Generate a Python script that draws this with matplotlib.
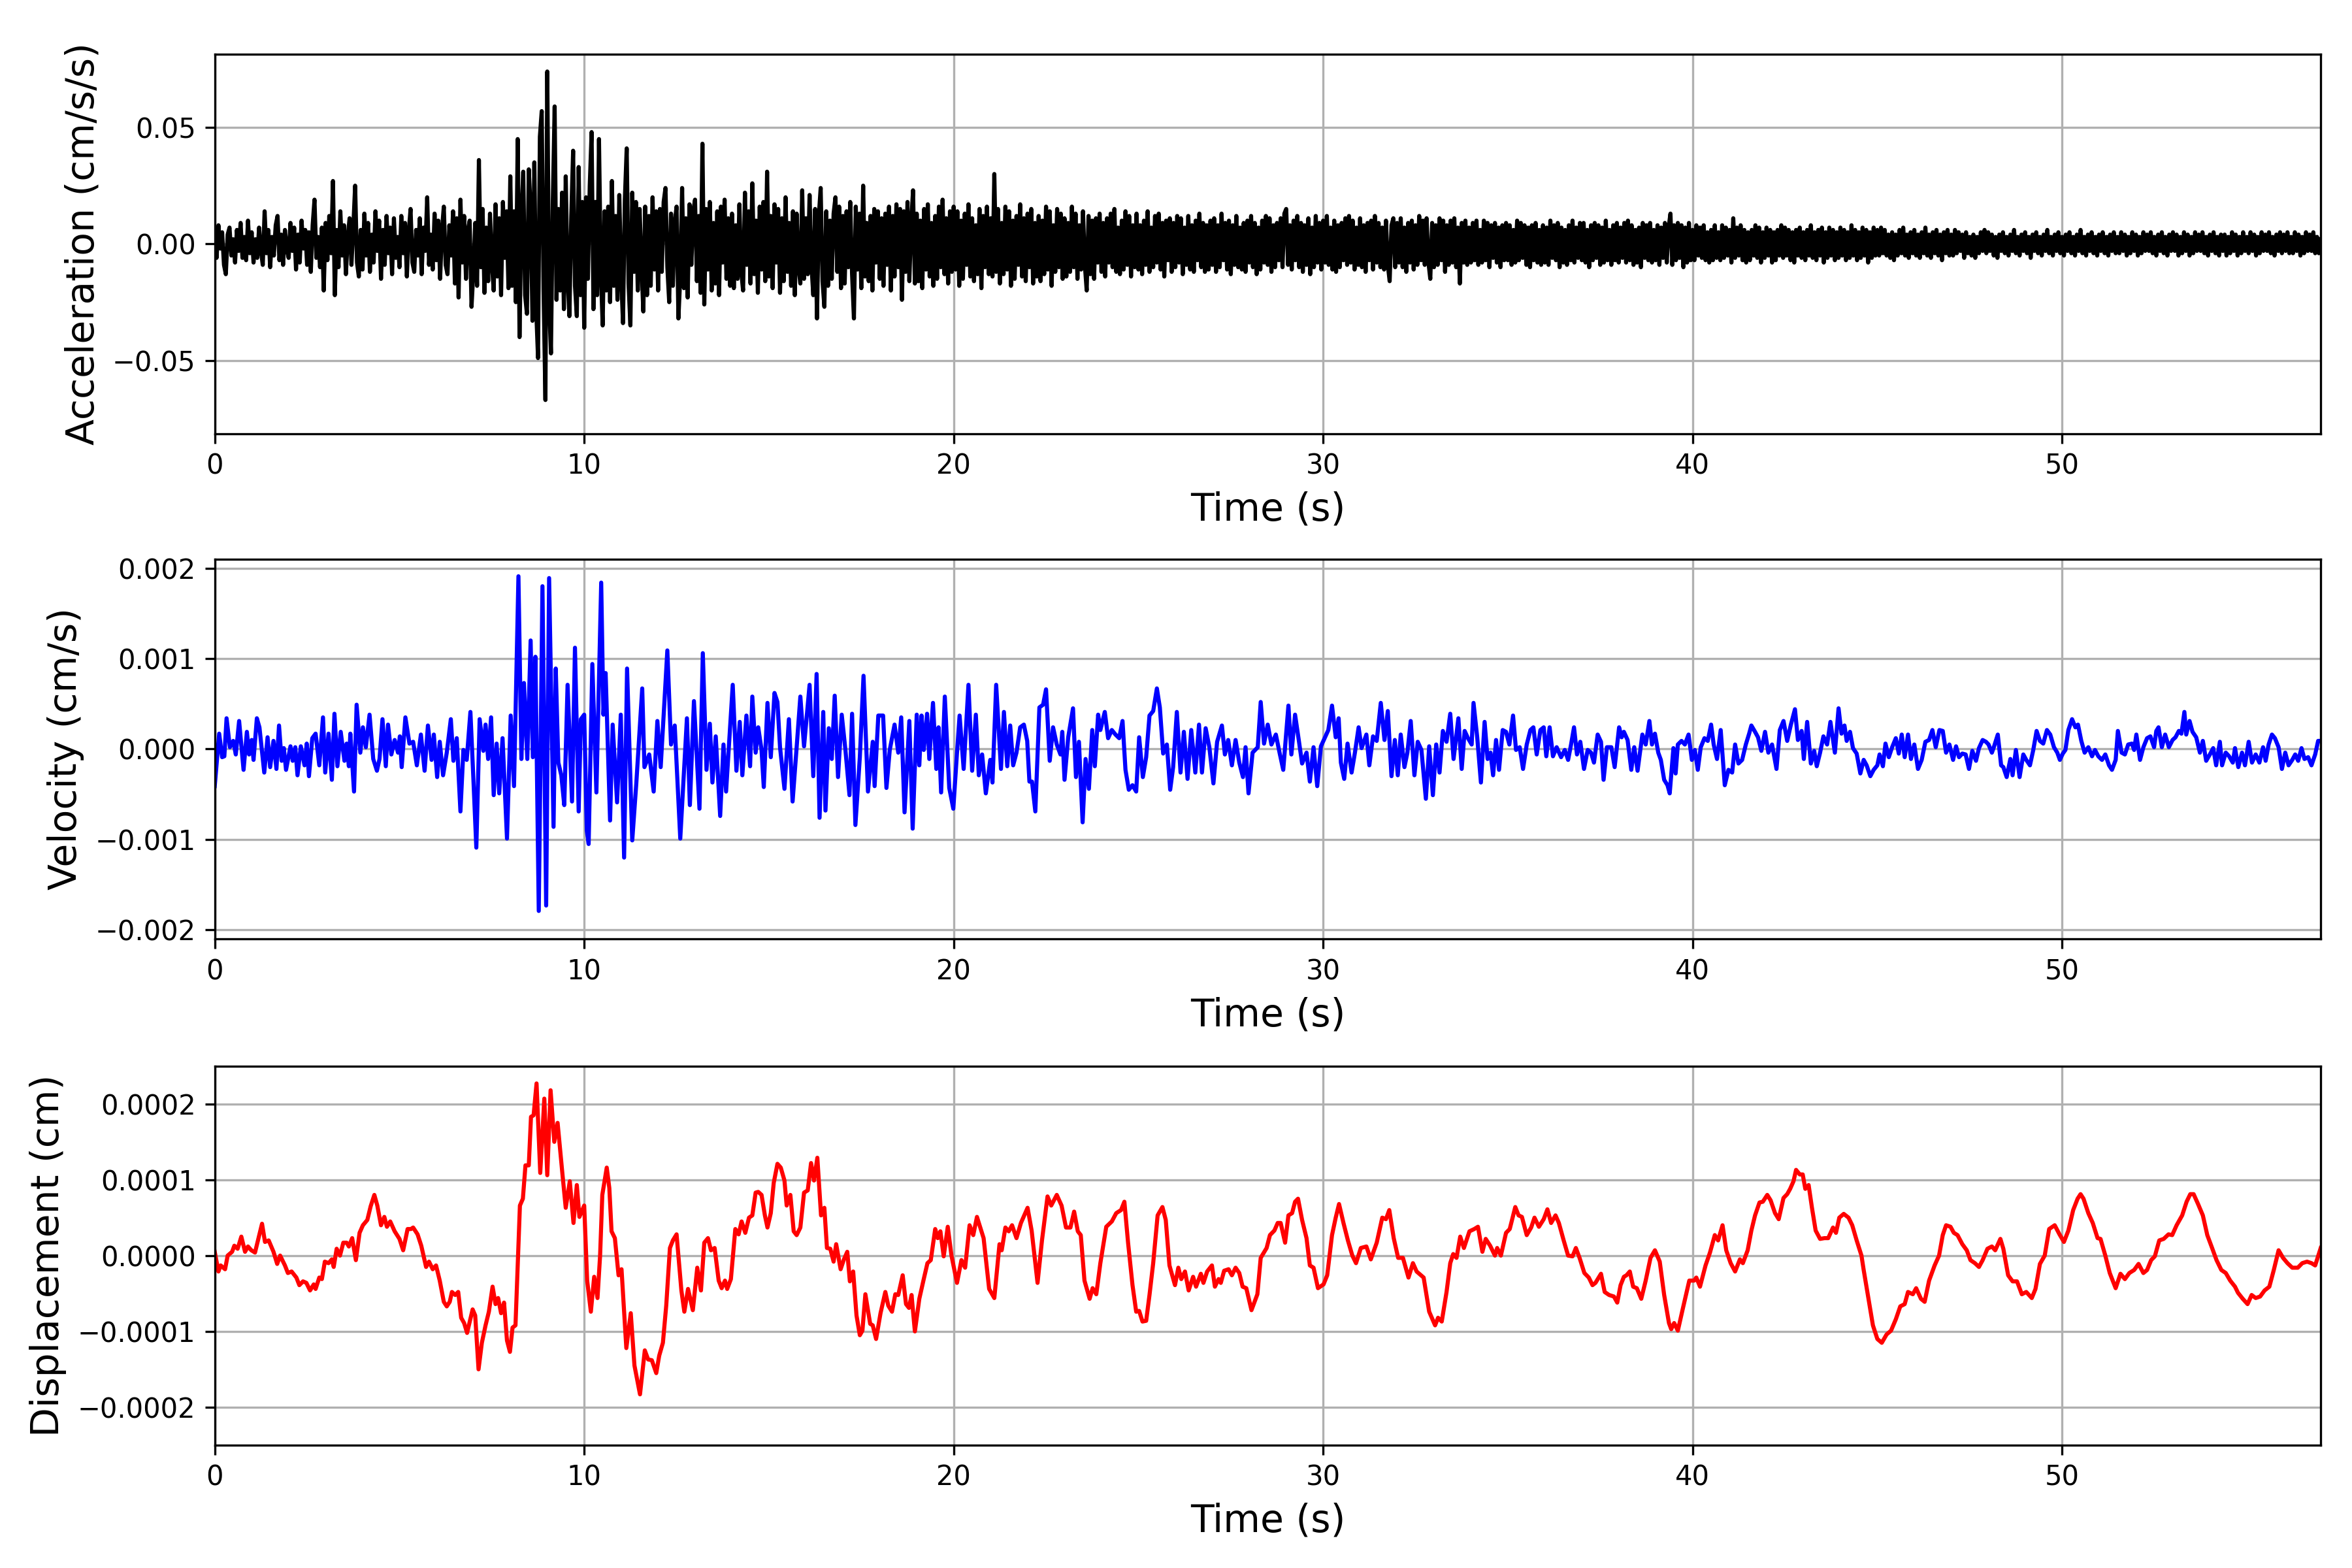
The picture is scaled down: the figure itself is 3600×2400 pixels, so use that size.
import numpy as np
import matplotlib
matplotlib.use("Agg")
import matplotlib.pyplot as plt

# ---------------- data ----------------
# Acceleration, sampled every 0.05 s (one row = one second), in units of 0.001 cm/s/s
ACC_DT = 0.05
ACC_UNIT = 1e-3
T_END = 57.0
acc_values = [
    3, -6, 8, -2, 5, -9, -13, 4, 7, -5, 2, -8, 6, -3, 9, -6, 3, -7, 10, -4,
    5, -8, 2, -6, 7, -3, -9, 14, -4, 6, -10, 3, -5, 8, 12, -7, 4, -9, 6, -2,
    -6, 9, -3, 7, -11, 4, -8, 10, -2, 6, -9, 5, -12, 8, 19, -6, 3, -10, 7, -20,
    9, -7, 12, -4, 27, -22, 6, -10, 14, -5, 8, -13, 3, 11, -9, 7, 25, -8, -14, 6,
    -11, 13, -5, 9, -12, 4, -8, 14, -3, 10, -15, 6, -9, 12, -4, 7, -13, 11, -6, 3,
    -10, 12, -4, 9, -14, 5, 15, -8, -12, 6, -5, 11, -13, 7, -3, 20, -9, 4, -11, 13,
    -7, 10, -15, 6, 16, -9, -13, 8, -5, 14, -17, 11, -23, 19, -8, 12, -15, 6, 10, -27,
    -12, 9, -18, 36, -10, 15, -21, 7, -16, 13, -8, -20, 17, -14, 11, -22, 18, -6, 14, -19,
    29, -18, 14, -25, 45, -40, 12, 31, -22, -30, 32, 15, -33, 35, -28, -49, 46, 57, -20, -67,
    74, -25, -47, 18, 59, -24, 15, -20, 22, -28, 29, -15, -31, 12, 40, -18, -31, 33, -22, 18,
    -36, 20, -15, 25, 48, -28, 18, -22, 45, -12, -35, 14, -20, 16, -25, 27, -18, 12, -24, 21,
    -14, -34, 19, 41, -17, -35, 22, -12, 18, -20, 15, -9, -29, 16, -22, 12, -18, 20, -11, 14,
    -20, 15, -12, 18, 24, -10, -25, 13, -18, 9, 16, -32, -14, 24, -19, 11, -23, 17, -9, 14,
    19, -16, 12, -21, 43, -26, 15, -11, 18, -20, 9, -17, 14, -22, 16, -8, 19, -15, 11, -18,
    13, -19, 8, -15, 17, -12, -20, 22, -9, 14, -17, 26, -13, 10, -21, 16, -11, 18, -16, 31,
    -14, 12, -19, 17, -8, 15, -21, 11, -16, 20, -12, 9, -18, 14, -22, 13, -10, -17, 23, -15,
    11, -13, 21, -9, -22, 15, -32, 12, 24, -16, -27, 14, -18, 10, -15, 13, 20, -12, 16, -19,
    12, -17, 14, -10, 18, -13, -32, 16, -11, 13, -19, 25, -14, 9, -16, 12, -20, 15, -8, 14,
    -15, 11, -18, 13, -9, 16, -20, 12, -14, 17, -10, 15, -24, 14, -12, 18, -16, 9, 23, -17,
    13, -16, 10, -19, 15, -11, 17, -14, 9, -18, 12, -15, 16, -10, 19, -13, 11, -17, 14, -12,
    16, -11, 14, -18, 10, -15, 13, -9, 17, -14, 11, -16, 8, -13, 15, -19, 12, -10, 16, -13,
    11, -14, 30, -12, 15, -17, 9, -13, 16, -11, 14, -18, 10, -15, 12, -9, 17, -14, 11, -16,
    13, -10, 15, -17, 9, -14, 12, -16, 10, -13, 16, -11, 14, -18, 8, -12, 15, -10, 13, -15,
    11, -14, 9, -12, 16, -10, 13, -15, 8, -11, 14, -9, -20, 12, -13, 10, -15, 11, -8, 13,
    -12, 9, -14, 11, -8, 13, -10, 15, -12, 7, -13, 10, -11, 14, -9, 12, -14, 8, -10, 13,
    -11, 8, -13, 10, -9, 14, -12, 7, -10, 12, -8, 13, -11, 9, -14, 10, -7, 11, -12, 9,
    -10, 12, -8, 11, -13, 7, -9, 12, -11, 8, -12, 10, -7, 13, -10, 9, -12, 8, -11, 10,
    -9, 11, -12, 8, -10, 13, -7, 9, -11, 10, -13, 8, -9, 12, -10, 7, -11, 9, -12, 10,
    -8, 12, -10, 9, -13, 7, -11, 10, -8, 12, -9, 11, -12, 8, -10, 9, -7, 11, -10, 13,
    15, -9, 8, -11, 10, -7, 12, -10, 9, -12, 8, -9, 11, -13, 7, -10, 12, -8, 9, -11,
    10, -8, 12, -9, 7, -11, 10, -12, 8, -10, 9, -7, 11, -9, 12, -8, 10, -11, 7, -9,
    11, -10, 8, -12, 9, -7, 10, -11, 12, -8, 9, -10, 7, -11, 10, -9, -16, 8, 11, -10,
    9, -8, 11, -10, 7, -12, 9, -8, 10, -11, 8, -9, 12, -7, 10, -9, 11, -8, -15, 9,
    -10, 8, -9, 11, -7, 10, -12, 8, -9, 10, -8, 11, -10, 7, -17, 9, -8, 10, -9, 7,
    -8, 9, -7, 10, -9, 6, -8, 10, -7, 9, -10, 8, -6, 9, -8, 7, -10, 8, -7, 9,
    -7, 8, -9, 6, -8, 10, -7, 9, -6, 8, -9, 7, -10, 8, -7, 9, -8, 6, -9, 8,
    -8, 7, -9, 10, -6, 8, -7, 9, -10, 7, -8, 6, -9, 8, -7, 10, -8, 7, -6, 9,
    -7, 9, -8, 6, -10, 8, -7, 9, -6, 8, -9, 7, -8, 10, -7, 6, -9, 8, -7, 9,
    -8, 7, -6, 9, -8, 10, -7, 8, -9, 6, -8, 7, -10, 9, -6, 8, -7, 9, -8, 6,
    -7, 8, -9, 7, -6, 9, -8, 7, 13, -9, 8, -7, 9, -6, 8, -10, 7, -8, 9, -7,
    6, -7, 8, -5, 7, -6, 8, -7, 5, -8, 6, -7, 8, -6, 5, -7, 8, -6, 7, -5,
    6, -8, 11, -6, 7, -5, 8, -7, 6, -8, 5, -7, 6, -5, 8, -6, 7, -8, 5, -6,
    7, -5, 6, -8, 5, -7, 6, -5, 8, -6, 7, -5, 6, -7, 5, -8, 6, -5, 7, -6,
    5, -7, 6, -5, 8, -6, 5, -7, 6, -5, 7, -8, 5, -6, 7, -5, 6, -7, 5, -6,
    7, -5, 6, -7, 5, -6, 8, -5, 6, -7, 5, -6, 7, -5, 6, -8, 5, -6, 7, -5,
    6, -5, 7, -4, 6, -5, 4, -6, 5, -7, 4, -5, 6, -4, 7, -5, 4, -6, 5, -4,
    6, -5, 4, -6, 5, -4, 7, -5, 4, -6, 5, -4, 6, -5, 4, -7, 5, -4, 6, -5,
    4, -5, 6, -4, 5, -3, 4, -6, 5, -4, 3, -5, 4, -6, 3, -4, 5, -3, 6, -4,
    5, -3, 4, -5, 3, -6, 4, -3, 5, -4, 3, -5, 4, -3, 6, -4, 3, -5, 4, -3,
    5, -4, 3, -6, 4, -3, 5, -4, 3, -5, 4, -3, 6, -4, 3, -5, 4, -3, 5, -4,
    3, -5, 4, -3, 5, -4, 3, -5, 4, -3, 6, -4, 3, -5, 4, -3, 5, -4, 3, -5,
    4, -3, 5, -4, 3, -5, 4, -3, 5, -4, 3, -4, 5, -3, 4, -5, 3, -4, 5, -3,
    4, -5, 3, -4, 5, -3, 4, -3, 5, -4, 3, -5, 4, -3, 5, -4, 3, -5, 4, -3,
    5, -3, 4, -5, 3, -4, 5, -3, 4, -5, 3, -4, 5, -3, 4, -3, 5, -4, 3, -5,
    4, -3, 5, -4, 3, -5, 4, -3, 4, -5, 3, -4, 5, -3, 4, -5, 3, -4, 5, -3,
    3, -4, 5, -3, 4, -5, 3, -4, 5, -3, 4, -3, 5, -4, 3, -5, 4, -3, 5, -4,
    4, -3, 5, -4, 3, -4, 5, -3, 4, -5, 3, -4, 5, -3, 4, -3, 5, -4, 3, -4,
    2,
]

# Velocity: (time s, value in 1e-5 cm/s)
VEL_UNIT = 1e-5
vel_points = [
    (0.0, -41), (0.12, 17), (0.2, -9), (0.26, -8), (0.32, 34), (0.41, 2), (0.5, 9), (0.57, -6),
    (0.66, 31), (0.78, -23), (0.87, 19), (0.93, -6), (1.0, 10), (1.05, -12), (1.14, 34), (1.21, 24),
    (1.34, -26), (1.43, 13), (1.5, -20), (1.59, 9), (1.67, -22), (1.74, 26), (1.81, -13), (1.87, 1),
    (1.93, -23), (2.05, 3), (2.11, -13), (2.18, 2), (2.24, -29), (2.33, 3), (2.43, -18), (2.49, 6),
    (2.55, -30), (2.64, 12), (2.73, 17), (2.83, -18), (2.93, 35), (2.99, -26), (3.08, 17), (3.17, -34),
    (3.24, 39), (3.32, -19), (3.41, 19), (3.51, -13), (3.57, 6), (3.63, -19), (3.67, 17), (3.77, -47),
    (3.84, 49), (3.94, -4), (4.01, 24), (4.09, 2), (4.19, 38), (4.29, -11), (4.39, -24), (4.46, -11),
    (4.54, 33), (4.63, -19), (4.69, 27), (4.78, -6), (4.87, 10), (4.96, -4), (5.01, 14), (5.06, -20),
    (5.16, 35), (5.27, 6), (5.37, 8), (5.47, -18), (5.58, 16), (5.68, -24), (5.77, 26), (5.87, -12),
    (5.93, 16), (6.02, -31), (6.09, 8), (6.18, -29), (6.28, -4), (6.39, 33), (6.46, -13), (6.55, 12),
    (6.65, -69), (6.73, -1), (6.82, -12), (6.92, 41), (6.99, -23), (7.08, -109), (7.17, 33), (7.27, -2),
    (7.33, 27), (7.4, -11), (7.48, 35), (7.55, -51), (7.63, 6), (7.7, -49), (7.79, 12), (7.91, -99),
    (8.01, 37), (8.1, -41), (8.22, 191), (8.3, -11), (8.37, 73), (8.46, -11), (8.55, 120), (8.61, -9),
    (8.68, 102), (8.77, -179), (8.87, 180), (8.97, -173), (9.05, 189), (9.17, -86), (9.23, 89), (9.3, -15),
    (9.38, -29), (9.46, -62), (9.55, 71), (9.67, -58), (9.75, 112), (9.85, -69), (9.91, 33), (10.0, 38),
    (10.07, -90), (10.12, -105), (10.22, 94), (10.33, -48), (10.46, 184), (10.52, 38), (10.58, 84), (10.7, -79),
    (10.77, 27), (10.89, -59), (10.99, 38), (11.08, -120), (11.16, 89), (11.3, -101), (11.41, -38), (11.57, 67),
    (11.63, -20), (11.76, -6), (11.88, -47), (11.98, 31), (12.07, -20), (12.25, 109), (12.35, 5), (12.45, 26),
    (12.6, -99), (12.78, 34), (12.86, -62), (12.97, 53), (13.12, -66), (13.21, 106), (13.31, -23), (13.4, 28),
    (13.47, -37), (13.56, 14), (13.68, -74), (13.77, 5), (13.84, -47), (14.02, 71), (14.12, -24), (14.21, 30),
    (14.28, -29), (14.39, 37), (14.49, -19), (14.55, 58), (14.64, -4), (14.71, 24), (14.8, -1), (14.86, -42),
    (14.96, 51), (15.05, -9), (15.15, 62), (15.23, 52), (15.3, 2), (15.42, -44), (15.54, 33), (15.64, -58),
    (15.75, 2), (15.85, 58), (15.95, 3), (16.1, 71), (16.2, -30), (16.29, 83), (16.37, -76), (16.47, 41),
    (16.53, -68), (16.62, 23), (16.7, -11), (16.78, 59), (16.87, -31), (16.97, 38), (17.07, -1), (17.18, -51),
    (17.25, 39), (17.34, -84), (17.46, -9), (17.56, 81), (17.68, -47), (17.81, 8), (17.86, -41), (17.96, 37),
    (18.09, 37), (18.18, -43), (18.27, -1), (18.4, 27), (18.5, -4), (18.58, 35), (18.67, -70), (18.8, 31),
    (18.89, -88), (19.0, 38), (19.07, -18), (19.13, 37), (19.19, -1), (19.28, 39), (19.34, -11), (19.44, 51),
    (19.53, -22), (19.59, 24), (19.66, -48), (19.76, 58), (19.88, -43), (19.99, -66), (20.09, -4), (20.16, 37),
    (20.27, -22), (20.4, 71), (20.5, -24), (20.6, 38), (20.68, -29), (20.77, -6), (20.87, -49), (20.99, -12),
    (21.05, -37), (21.15, 71), (21.28, -22), (21.36, 41), (21.45, -19), (21.53, 26), (21.61, -18), (21.7, -4),
    (21.8, 24), (21.9, 27), (21.99, 9), (22.05, -36), (22.12, -36), (22.21, -69), (22.32, 46), (22.42, 49),
    (22.5, 66), (22.6, -13), (22.69, 24), (22.79, 5), (22.89, -6), (22.94, 19), (23.0, -34), (23.1, 13),
    (23.23, 45), (23.31, -31), (23.39, 8), (23.49, -81), (23.57, -11), (23.66, -44), (23.75, 21), (23.82, -19),
    (23.91, 38), (23.97, 21), (24.09, 41), (24.18, 12), (24.28, 21), (24.38, 16), (24.48, 12), (24.57, 31),
    (24.65, -23), (24.74, -45), (24.84, -40), (24.94, -47), (25.02, 13), (25.12, -31), (25.21, -9), (25.3, 37),
    (25.4, 42), (25.5, 67), (25.58, 46), (25.67, -5), (25.77, 5), (25.86, -45), (25.94, -20), (26.04, 41),
    (26.14, -26), (26.23, 19), (26.33, -33), (26.43, 21), (26.54, -26), (26.64, 27), (26.72, -26), (26.82, 23),
    (26.92, 2), (27.03, -38), (27.13, 8), (27.26, 26), (27.34, -6), (27.43, 10), (27.53, -18), (27.63, 10),
    (27.73, -15), (27.83, -31), (27.9, 2), (27.98, -49), (28.09, -4), (28.23, 2), (28.31, 52), (28.4, 6),
    (28.5, 27), (28.6, 5), (28.72, 16), (28.82, -4), (28.92, -23), (29.06, 48), (29.14, -6), (29.24, 38),
    (29.34, 10), (29.43, -16), (29.55, -4), (29.64, -36), (29.74, 2), (29.84, -41), (29.94, 3), (30.05, 13),
    (30.14, 21), (30.24, 48), (30.34, 13), (30.42, 34), (30.48, -15), (30.57, -33), (30.66, 6), (30.77, -26),
    (30.86, -4), (30.96, 24), (31.04, 1), (31.17, 16), (31.25, -18), (31.35, 14), (31.45, 9), (31.56, 51),
    (31.66, 10), (31.75, 42), (31.85, -30), (31.94, 10), (32.02, -29), (32.1, 16), (32.2, -20), (32.28, -4),
    (32.37, 31), (32.47, -29), (32.56, 8), (32.66, -1), (32.78, -55), (32.87, 3), (32.97, -51), (33.06, 5),
    (33.15, -26), (33.24, 20), (33.34, 8), (33.44, 39), (33.53, -11), (33.66, 34), (33.75, -22), (33.83, 20),
    (33.92, 12), (34.02, 5), (34.07, 51), (34.17, 13), (34.27, -37), (34.37, 30), (34.45, -11), (34.53, -4),
    (34.6, -29), (34.68, 10), (34.76, -23), (34.86, 21), (34.95, 19), (35.04, 5), (35.14, 37), (35.22, -1),
    (35.32, 2), (35.41, -22), (35.51, 5), (35.61, 21), (35.69, 24), (35.78, -6), (35.88, 21), (35.97, 24),
    (36.04, -8), (36.13, 24), (36.22, -8), (36.32, 2), (36.44, -9), (36.54, -1), (36.63, -12), (36.71, 5),
    (36.79, 24), (36.87, -6), (36.96, 8), (37.06, -22), (37.16, -1), (37.25, -4), (37.33, -15), (37.43, 16),
    (37.52, 8), (37.59, -34), (37.68, 2), (37.8, 2), (37.89, -20), (38.01, 24), (38.08, 13), (38.14, 19),
    (38.24, 10), (38.34, -23), (38.42, 2), (38.51, -24), (38.64, 16), (38.73, 5), (38.83, 31), (38.9, 5),
    (38.98, 17), (39.07, -4), (39.14, -12), (39.23, -34), (39.32, -40), (39.38, -49), (39.48, 1), (39.54, -27),
    (39.6, 5), (39.7, 9), (39.79, 5), (39.89, 16), (39.98, -12), (40.06, -1), (40.14, -23), (40.22, 2),
    (40.32, 12), (40.41, 9), (40.5, 27), (40.57, 5), (40.66, -11), (40.76, 21), (40.87, -40), (40.97, -23),
    (41.07, -26), (41.15, 5), (41.24, -16), (41.34, -12), (41.44, 5), (41.53, 17), (41.59, 26), (41.69, 19),
    (41.77, 13), (41.86, -2), (41.96, 19), (42.05, -4), (42.15, 5), (42.27, -22), (42.36, 21), (42.46, 31),
    (42.56, 9), (42.66, 27), (42.77, 44), (42.85, 10), (42.95, 20), (43.01, -11), (43.1, 30), (43.2, -16),
    (43.29, -2), (43.36, -19), (43.45, -4), (43.54, 14), (43.64, 5), (43.73, 30), (43.85, -4), (43.95, 45),
    (44.03, 17), (44.11, 26), (44.17, 9), (44.26, 19), (44.34, 1), (44.44, -5), (44.54, -27), (44.63, -12),
    (44.71, -18), (44.81, -30), (44.9, -23), (45.0, -18), (45.06, -6), (45.15, -19), (45.22, 6), (45.31, -9),
    (45.4, 2), (45.5, 12), (45.58, -5), (45.66, 16), (45.74, -9), (45.83, 16), (45.91, -11), (46.0, 5),
    (46.1, -22), (46.2, -12), (46.3, 8), (46.4, 10), (46.49, 21), (46.58, 2), (46.68, 21), (46.77, 20),
    (46.86, -4), (46.95, 5), (47.05, -12), (47.13, 3), (47.21, -9), (47.3, -5), (47.39, -6), (47.48, -22),
    (47.57, -2), (47.67, -13), (47.75, 1), (47.85, 10), (47.94, 8), (48.01, 5), (48.1, -4), (48.16, 3),
    (48.26, 16), (48.35, -18), (48.41, -20), (48.5, -31), (48.6, -11), (48.66, -29), (48.75, -1), (48.85, -31),
    (48.95, -6), (49.03, -12), (49.13, -18), (49.22, -1), (49.31, 20), (49.4, 9), (49.49, 6), (49.59, 21),
    (49.68, 16), (49.78, 2), (49.87, -4), (49.94, -12), (50.02, -5), (50.09, -1), (50.17, 21), (50.27, 33),
    (50.36, 24), (50.43, 27), (50.52, 9), (50.61, -4), (50.71, 2), (50.81, -8), (50.89, -1), (50.98, -8),
    (51.08, -12), (51.17, -6), (51.27, -18), (51.35, -23), (51.45, -12), (51.51, 20), (51.61, -4), (51.7, -6),
    (51.79, 5), (51.89, 6), (51.95, -1), (52.01, 16), (52.11, -12), (52.2, 2), (52.3, 12), (52.39, 14),
    (52.49, 2), (52.55, 20), (52.61, 24), (52.7, 2), (52.79, 16), (52.89, 2), (52.99, 10), (53.07, 13),
    (53.16, 20), (53.23, 17), (53.31, 41), (53.36, 16), (53.45, 31), (53.53, 19), (53.63, 13), (53.73, -4),
    (53.81, 9), (53.9, -13), (54.0, -6), (54.09, 1), (54.17, -18), (54.27, 8), (54.33, -18), (54.43, -4),
    (54.52, -8), (54.62, -15), (54.68, 1), (54.77, -20), (54.87, -4), (54.95, -18), (55.05, 8), (55.14, -15),
    (55.24, -6), (55.34, -15), (55.44, 2), (55.51, -13), (55.59, 5), (55.68, 16), (55.76, 12), (55.86, 2),
    (55.95, -22), (56.04, -4), (56.13, -18), (56.23, -12), (56.31, -6), (56.39, -13), (56.48, 1), (56.56, -11),
    (56.66, -9), (56.75, -18), (56.85, -6), (56.93, 9), (57.0, 9),
]

# Displacement: (time s, value in 1e-6 cm)
DISP_UNIT = 1e-6
disp_points = [
    (0.0, 5), (0.1, -21), (0.16, -13), (0.28, -18), (0.35, 0), (0.47, 5), (0.53, 13), (0.62, 9),
    (0.72, 25), (0.82, 5), (0.9, 12), (0.99, 7), (1.09, 4), (1.28, 42), (1.36, 18), (1.46, 20),
    (1.59, 5), (1.69, -11), (1.77, 0), (1.9, -13), (1.98, -23), (2.08, -21), (2.21, -29), (2.29, -39),
    (2.39, -34), (2.48, -36), (2.58, -46), (2.68, -38), (2.73, -44), (2.83, -29), (2.9, -31), (2.98, -8),
    (3.08, -10), (3.17, -5), (3.22, -15), (3.3, 9), (3.39, 0), (3.48, 17), (3.57, 17), (3.63, 12),
    (3.72, 23), (3.82, -6), (3.92, 30), (4.01, 40), (4.13, 47), (4.22, 65), (4.32, 80), (4.4, 66),
    (4.5, 40), (4.59, 51), (4.66, 38), (4.75, 45), (4.87, 32), (5.0, 22), (5.1, 7), (5.22, 35),
    (5.31, 35), (5.37, 37), (5.49, 28), (5.59, 13), (5.72, -15), (5.8, -8), (5.9, -18), (5.99, -13),
    (6.09, -33), (6.2, -61), (6.28, -67), (6.36, -61), (6.42, -48), (6.51, -52), (6.59, -48), (6.67, -82),
    (6.75, -89), (6.83, -102), (6.98, -71), (7.05, -79), (7.14, -150), (7.23, -115), (7.33, -92), (7.42, -74),
    (7.52, -41), (7.6, -64), (7.67, -56), (7.75, -76), (7.83, -62), (7.91, -112), (7.99, -127), (8.06, -95),
    (8.14, -92), (8.26, 66), (8.34, 75), (8.41, 119), (8.5, 119), (8.56, 183), (8.63, 185), (8.71, 227),
    (8.81, 109), (8.92, 207), (9.0, 106), (9.09, 218), (9.19, 150), (9.28, 175), (9.4, 113), (9.5, 63),
    (9.61, 98), (9.71, 43), (9.8, 93), (9.87, 51), (10.0, 66), (10.08, -33), (10.18, -74), (10.27, -28),
    (10.36, -56), (10.43, 0), (10.49, 80), (10.61, 116), (10.68, 89), (10.74, 32), (10.83, 23), (10.93, -26),
    (11.01, -18), (11.14, -122), (11.26, -76), (11.36, -145), (11.51, -183), (11.64, -125), (11.73, -137), (11.83, -138),
    (11.95, -155), (12.03, -132), (12.13, -115), (12.22, -66), (12.32, 10), (12.4, 20), (12.5, 28), (12.63, -46),
    (12.71, -74), (12.81, -44), (12.94, -72), (13.06, -16), (13.16, -46), (13.25, 17), (13.35, 23), (13.43, 7),
    (13.53, 10), (13.64, -33), (13.72, -43), (13.81, -33), (13.87, -44), (13.97, -31), (14.09, 35), (14.18, 28),
    (14.26, 45), (14.36, 30), (14.46, 50), (14.55, 53), (14.64, 83), (14.71, 84), (14.8, 80), (14.89, 53),
    (14.96, 37), (15.05, 56), (15.13, 96), (15.23, 121), (15.32, 116), (15.42, 99), (15.48, 66), (15.58, 80),
    (15.67, 32), (15.75, 27), (15.85, 37), (15.95, 83), (16.05, 86), (16.14, 122), (16.22, 99), (16.31, 129),
    (16.41, 53), (16.5, 63), (16.57, 10), (16.66, 9), (16.75, -8), (16.82, 15), (16.94, -18), (17.03, -5),
    (17.12, 5), (17.19, -34), (17.28, -21), (17.37, -79), (17.46, -105), (17.53, -99), (17.61, -51), (17.74, -90),
    (17.81, -92), (17.9, -110), (18.02, -76), (18.15, -48), (18.23, -66), (18.33, -74), (18.42, -51), (18.5, -52),
    (18.62, -26), (18.71, -64), (18.79, -69), (18.86, -52), (18.95, -100), (19.07, -57), (19.19, -31), (19.29, -10),
    (19.38, -6), (19.5, 35), (19.57, 23), (19.64, 32), (19.73, -1), (19.84, 38), (19.94, 0), (20.09, -36),
    (20.21, -6), (20.31, -16), (20.43, 40), (20.53, 27), (20.63, 51), (20.81, 23), (20.96, -44), (21.1, -56),
    (21.24, 15), (21.3, 7), (21.4, 37), (21.49, 32), (21.58, 40), (21.7, 23), (21.82, 43), (22.0, 63),
    (22.11, 33), (22.2, -6), (22.27, -36), (22.39, 20), (22.54, 78), (22.64, 66), (22.79, 80), (22.92, 66),
    (23.04, 37), (23.16, 37), (23.26, 58), (23.36, 32), (23.44, 27), (23.54, -33), (23.68, -57), (23.76, -43),
    (23.86, -51), (23.97, -10), (24.13, 38), (24.28, 45), (24.4, 56), (24.53, 60), (24.62, 71), (24.72, 17),
    (24.84, -39), (24.94, -74), (25.02, -73), (25.11, -87), (25.21, -86), (25.3, -52), (25.4, -10), (25.52, 53),
    (25.65, 64), (25.74, 47), (25.84, -13), (25.99, -39), (26.08, -16), (26.16, -31), (26.26, -21), (26.36, -46),
    (26.48, -28), (26.56, -41), (26.69, -24), (26.76, -36), (26.86, -21), (26.99, -13), (27.07, -41), (27.17, -31),
    (27.23, -36), (27.32, -20), (27.44, -18), (27.53, -26), (27.63, -16), (27.73, -23), (27.82, -41), (27.92, -43),
    (28.06, -72), (28.22, -51), (28.31, -3), (28.47, 10), (28.56, 27), (28.68, 33), (28.77, 43), (28.85, 43),
    (28.97, 17), (29.06, 53), (29.16, 56), (29.24, 71), (29.32, 75), (29.43, 47), (29.55, 23), (29.64, -13),
    (29.74, -16), (29.86, -43), (30.01, -38), (30.11, -26), (30.24, 27), (30.34, 50), (30.43, 68), (30.55, 43),
    (30.67, 20), (30.79, 0), (30.89, -10), (31.02, 10), (31.17, 12), (31.29, -5), (31.45, 17), (31.6, 50),
    (31.7, 48), (31.79, 60), (31.91, 23), (32.03, -3), (32.16, -3), (32.31, -29), (32.43, -10), (32.53, -21),
    (32.72, -29), (32.87, -74), (33.03, -92), (33.11, -82), (33.21, -87), (33.34, -48), (33.44, -10), (33.52, 2),
    (33.61, -3), (33.71, 25), (33.81, 10), (33.96, 32), (34.09, 35), (34.19, 38), (34.31, 5), (34.4, 22),
    (34.52, 13), (34.65, 0), (34.71, 10), (34.81, 0), (34.95, 30), (35.05, 35), (35.2, 64), (35.29, 53),
    (35.38, 51), (35.51, 27), (35.63, 37), (35.72, 50), (35.84, 38), (35.97, 48), (36.07, 61), (36.17, 43),
    (36.29, 53), (36.38, 43), (36.51, 20), (36.63, 0), (36.75, -1), (36.84, 10), (36.94, -3), (37.07, -23),
    (37.19, -29), (37.29, -39), (37.37, -36), (37.52, -24), (37.62, -48), (37.74, -52), (37.87, -54), (37.96, -62),
    (38.05, -39), (38.14, -28), (38.21, -26), (38.3, -21), (38.39, -41), (38.49, -43), (38.61, -57), (38.73, -33),
    (38.86, -3), (38.98, 7), (39.11, -8), (39.23, -52), (39.36, -89), (39.42, -97), (39.5, -89), (39.6, -99),
    (39.73, -71), (39.91, -33), (40.04, -33), (40.1, -29), (40.2, -41), (40.35, -13), (40.47, 4), (40.6, 27),
    (40.69, 20), (40.81, 40), (40.91, 7), (41.03, -10), (41.15, -21), (41.28, -5), (41.36, -10), (41.49, 7),
    (41.59, 33), (41.69, 53), (41.81, 70), (41.9, 71), (42.02, 80), (42.11, 73), (42.23, 56), (42.33, 48),
    (42.46, 76), (42.56, 81), (42.64, 88), (42.73, 98), (42.8, 113), (42.9, 107), (42.98, 107), (43.05, 88),
    (43.14, 93), (43.23, 63), (43.33, 33), (43.45, 22), (43.57, 23), (43.67, 23), (43.8, 37), (43.88, 30),
    (43.97, 50), (44.09, 55), (44.22, 50), (44.32, 40), (44.44, 20), (44.57, 0), (44.63, -19), (44.75, -54),
    (44.88, -92), (45.0, -110), (45.12, -115), (45.25, -104), (45.37, -99), (45.5, -84), (45.62, -67), (45.74, -64),
    (45.83, -48), (45.96, -51), (46.05, -43), (46.18, -57), (46.28, -61), (46.4, -33), (46.55, -13), (46.67, 0),
    (46.77, 27), (46.86, 40), (46.98, 38), (47.07, 30), (47.17, 27), (47.3, 15), (47.42, 7), (47.52, -6),
    (47.64, -10), (47.75, -15), (47.85, -6), (47.98, 9), (48.1, 12), (48.19, 7), (48.33, 22), (48.41, 9),
    (48.54, -26), (48.66, -34), (48.78, -34), (48.91, -51), (49.03, -48), (49.18, -56), (49.28, -44), (49.4, -11),
    (49.53, 0), (49.65, 35), (49.8, 40), (49.93, 28), (50.05, 18), (50.17, 33), (50.3, 60), (50.42, 75),
    (50.5, 81), (50.58, 75), (50.71, 56), (50.83, 43), (50.96, 23), (51.04, 22), (51.17, 0), (51.29, -23),
    (51.45, -43), (51.58, -24), (51.7, -31), (51.82, -23), (51.95, -19), (52.07, -11), (52.2, -23), (52.3, -19),
    (52.41, -6), (52.51, -1), (52.63, 20), (52.75, 22), (52.88, 28), (52.98, 27), (53.1, 40), (53.25, 53),
    (53.37, 71), (53.47, 81), (53.56, 81), (53.68, 68), (53.81, 53), (53.93, 27), (54.06, 10), (54.18, -6),
    (54.31, -19), (54.43, -23), (54.55, -33), (54.68, -41), (54.76, -49), (54.89, -57), (55.02, -64), (55.13, -52),
    (55.24, -56), (55.36, -54), (55.48, -46), (55.61, -41), (55.73, -19), (55.86, 7), (55.98, -3), (56.1, -10),
    (56.23, -16), (56.38, -16), (56.5, -10), (56.63, -8), (56.75, -10), (56.85, -13), (57.0, 10),
]

x_label = "Time (s)"
y_labels = ["Acceleration (cm/s/s)", "Velocity (cm/s)", "Displacement (cm)"]
colors = ["black", "blue", "red"]

# ---------------- build series ----------------
acc = np.array(acc_values, dtype=float) * ACC_UNIT
acc_t = np.arange(len(acc)) * ACC_DT

vel_t = np.array([p[0] for p in vel_points])
vel = np.array([p[1] for p in vel_points], dtype=float) * VEL_UNIT

disp_t = np.array([p[0] for p in disp_points])
disp = np.array([p[1] for p in disp_points], dtype=float) * DISP_UNIT

series = [(acc_t, acc), (vel_t, vel), (disp_t, disp)]

# ---------------- figure ----------------
fig = plt.figure(figsize=(12, 8), dpi=300)
rects = [
    [0.0913, 0.7235, 0.8954, 0.2419],
    [0.0913, 0.4011, 0.8954, 0.2424],
    [0.0913, 0.0785, 0.8954, 0.2415],
]

for rect, (t, y), lab, col in zip(rects, series, y_labels, colors):
    ax = fig.add_axes(rect)
    ax.plot(t, y, color=col, lw=1.5)
    ax.set_xlim(0, T_END)
    lim = 1.1 * np.max(np.abs(y))
    ax.set_ylim(-lim, lim)
    ax.grid(True)
    ax.set_xlabel(x_label, fontsize=14)
    ax.set_ylabel(lab, fontsize=14)

fig.savefig("out.png", dpi=300)
